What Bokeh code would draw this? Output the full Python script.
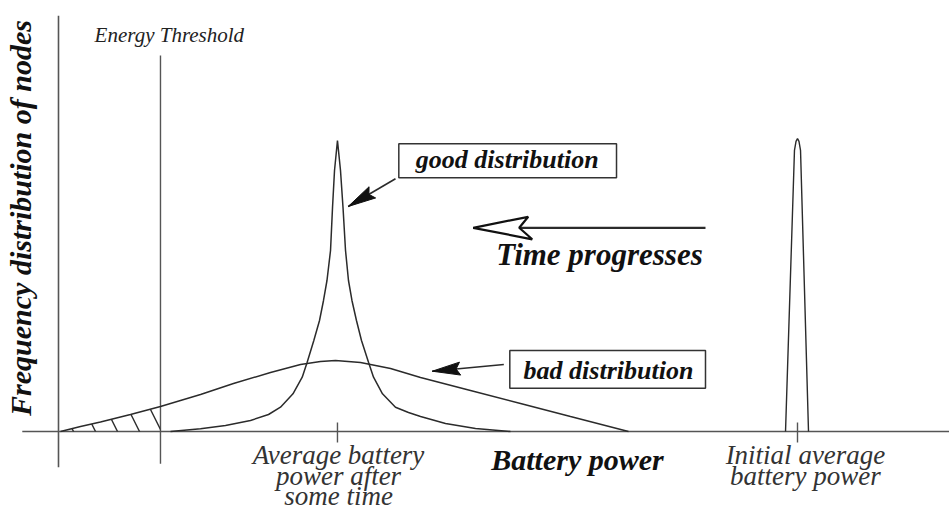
import math
from bokeh.plotting import figure
from bokeh.models import Range1d
from bokeh.core.properties import value
from bokeh.embed import file_html
from bokeh.resources import INLINE

# ---------------- data ----------------
# x: battery power (% of initial average battery power)
# y: frequency of nodes (% of the peak of the good distribution)
good_x = [15.16, 19.22, 22.60, 25.98, 28.42, 30.04, 31.73, 32.98, 33.65, 34.55, 35.32, 35.86,
          36.33, 36.81, 37.08, 37.35, 37.75, 38.16, 38.50, 38.84, 39.24, 39.71, 40.32, 41.00,
          41.95, 42.63, 43.84, 45.60, 47.36, 48.99, 52.37, 56.43, 61.16]
good_y = [0.0, 0.93, 2.06, 3.78, 5.84, 8.35, 12.96, 18.66, 23.81, 31.27, 38.14, 45.02,
          51.89, 62.20, 76.98, 89.69, 100.0, 89.69, 76.98, 62.20, 51.89, 45.02, 38.14, 31.27,
          23.81, 18.66, 12.96, 8.35, 6.53, 5.15, 2.75, 1.03, 0.0]

bad_x = [0.27, 2.98, 5.68, 9.74, 13.80, 19.22, 23.68, 28.69, 32.75, 35.45, 37.48,
         40.87, 44.93, 48.99, 55.75, 62.52, 69.28, 77.13]
bad_y = [0.0, 1.72, 3.26, 5.84, 8.59, 12.71, 16.49, 20.27, 23.02, 24.05, 24.40,
         23.71, 21.65, 18.56, 14.09, 9.62, 5.15, 0.0]

init_x = [98.38, 99.59, 99.80, 100.0, 100.20, 100.41, 101.49]
init_y = [0.0, 96.6, 99.7, 100.7, 99.7, 96.6, 0.0]

energy_threshold = 13.8
tick_values = [37.75, 100.0]
tick_labels = ["Average battery\npower after\nsome time", "Initial average\nbattery power"]

x_title = "Battery power"
y_title = "Frequency distribution of nodes"
threshold_label = "Energy Threshold"
good_label = "good distribution"
bad_label = "bad distribution"
time_label = "Time progresses"

# ---------------- figure ----------------
W, H = 949, 515
SX0, SY0 = 7.39, 2.91
X0, X1 = -58 / SX0, (W - 58) / SX0
Y0, Y1 = -(H - 431) / SY0, 431 / SY0
SX = W / (X1 - X0)   # px per x unit
SY = H / (Y1 - Y0)   # px per y unit

p = figure(width=W, height=H, x_range=Range1d(X0, X1), y_range=Range1d(Y0, Y1),
           output_backend="svg", toolbar_location=None,
           x_axis_type=None, y_axis_type=None, min_border=0,
           outline_line_color=None, background_fill_color="white",
           border_fill_color="white")

INK = "#2b2b2b"
AX = "#555555"
SERIF = value("Liberation Serif")
BASE_FIX = 0.34  # em fraction: renderer puts alphabetic baseline this much lower

# axes lines drawn through data scales
p.segment(x0=[0], y0=[-12.3], x1=[0], y1=[142.9], line_color=AX, line_width=1.6)
p.segment(x0=[-4.9], y0=[0], x1=[X1], y1=[0], line_color=AX, line_width=1.6)
p.segment(x0=[energy_threshold], y0=[-11.1], x1=[energy_threshold], y1=[129.2],
          line_color=AX, line_width=1.4)
tick_len_up, tick_len_dn = 9 / SY, 11 / SY
p.segment(x0=tick_values, y0=[tick_len_up] * 2, x1=tick_values, y1=[-tick_len_dn] * 2,
          line_color=AX, line_width=1.4)

# hatched area under the bad distribution below the threshold
hx = [x for x in bad_x if x <= energy_threshold]
hy = [y for x, y in zip(bad_x, bad_y) if x <= energy_threshold]
p.varea(x=hx, y1=[0] * len(hx), y2=hy, fill_alpha=0, hatch_pattern="\\",
        hatch_scale=44, hatch_weight=1.4, hatch_color=INK)

# distributions
p.line(bad_x, bad_y, line_color=INK, line_width=1.5)
p.line(good_x, good_y, line_color=INK, line_width=1.5)
p.line(init_x, init_y, line_color=INK, line_width=1.4)


def head(tip, tail, offsets):
    dx = (tip[0] - tail[0]) * SX
    dy = (tip[1] - tail[1]) * SY
    L = math.hypot(dx, dy)
    ux, uy = dx / L, dy / L
    nx, ny = -uy, ux
    xs, ys = [], []
    for a, b in offsets:
        xs.append(tip[0] + (-ux * a + nx * b) / SX)
        ys.append(tip[1] + (-uy * a + ny * b) / SY)
    return xs, ys


# annotation arrows
good_tail, good_tip = (45.6, 86.84), (39.2, 77.32)
bad_tail, bad_tip = (60.26, 23.02), (50.57, 20.72)
for tail, tip in [(good_tail, good_tip), (bad_tail, bad_tip)]:
    p.segment(x0=[tail[0]], y0=[tail[1]], x1=[tip[0]], y1=[tip[1]], line_color=INK, line_width=1.6)
    hx_, hy_ = head(tip, tail, [(0, 0), (28, 6.5), (24, 0), (28, -6.5)])
    p.patch(hx_, hy_, fill_color="#111111", line_color="#111111", line_width=1)

time_tail, time_tip = (87.55, 70.0), (56.12, 70.0)
nx_, ny_ = head(time_tip, time_tail, [(46, 0)])
p.segment(x0=[time_tail[0]], y0=[time_tail[1]], x1=[nx_[0]], y1=[ny_[0]], line_color=INK, line_width=2.2)
tx, ty = head(time_tip, time_tail, [(0, 0), (59, 11.5), (46, 0), (55, -11)])
p.patch(tx, ty, fill_color="white", line_color="#111111", line_width=2.2)

# label boxes
p.rect(x=[60.78], y=[93.03], width=[29.46], height=[11.69], fill_color=None,
       line_color="#333333", line_width=1.5)
p.rect(x=[74.31], y=[21.36], width=[26.48], height=[12.96], fill_color=None,
       line_color="#333333", line_width=1.5)


def txt(xs, ys, texts, size, style, color="#111111", angle=0.0):
    fix = BASE_FIX * size
    if angle:
        xs = [x - fix / SX for x in xs]
    else:
        ys = [y + fix / SY for y in ys]
    p.text(x=xs, y=ys, text=texts, text_font=SERIF, text_font_style=style,
           text_font_size=f"{size}px", text_align="center", text_baseline="alphabetic",
           text_color=color, angle=angle)


txt([15.0], [133.8], [threshold_label], 21, "italic", "#222222")
txt([60.72], [90.27], [good_label], 26, "bold italic")
txt([74.42], [17.77], [bad_label], 26, "bold italic")
txt([73.21], [57.04], [time_label], 31, "bold italic")
txt([70.23], [-13.06], [x_title], 30, "bold italic")
txt([-3.7], [73.37], [y_title], 30, "bold italic", angle=math.pi / 2)

first_baseline = -33 / SY
line_steps = [20.5 / SY, 20.5 / SY]
label_centres = [37.89, 101.08]
for cx, lab, step in zip(label_centres, tick_labels, line_steps):
    lines = lab.split("\n")
    txt([cx] * len(lines), [first_baseline - i * step for i in range(len(lines))],
        lines, 27, "italic", "#333333")

open("out.html", "w").write(file_html(p, INLINE))
